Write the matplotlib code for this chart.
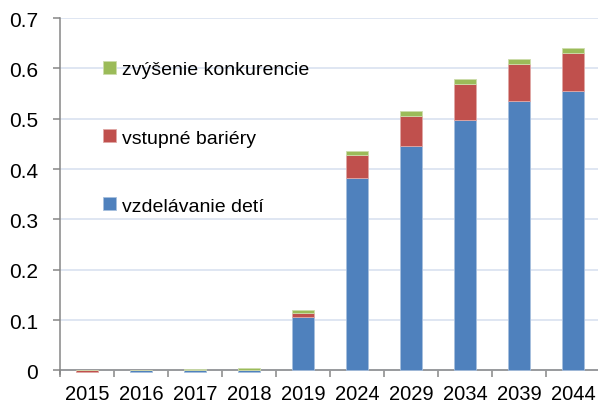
import numpy as np
import matplotlib.pyplot as plt

# Chart data
years = ['2015', '2016', '2017', '2018', '2019', '2024', '2029', '2034', '2039', '2044']
vzdelavanie = [0.0, -0.003, -0.003, -0.003, 0.1065, 0.383, 0.445, 0.498, 0.535, 0.555]
bariery = [-0.003, 0.0, 0.0005, 0.0005, 0.0085, 0.045, 0.061, 0.070, 0.074, 0.075]
konkurencia = [0.0, 0.0003, 0.002, 0.0035, 0.006, 0.008, 0.0096, 0.011, 0.010, 0.011]

series_names = ['vzdelávanie detí', 'vstupné bariéry', 'zvýšenie konkurencie']
colors = ['#4F81BD', '#C0504D', '#9BBB59']
edges = ['#A7C0DE', '#E0A8A6', '#CDDDAC']

plt.rcParams['font.family'] = ['Liberation Sans', 'DejaVu Sans']

fig = plt.figure(figsize=(5.98, 4.14), dpi=100)
ax = fig.add_axes([60 / 598, 39.5 / 414, 540 / 598, 355.5 / 414])

x = np.arange(len(years))
pos_bottom = np.zeros(len(years))
neg_bottom = np.zeros(len(years))
handles = []
for vals, name, c, ec in zip([vzdelavanie, bariery, konkurencia], series_names, colors, edges):
    vals = np.array(vals)
    bottom = np.where(vals >= 0, pos_bottom, neg_bottom)
    h = ax.bar(x, vals, width=0.4, bottom=bottom, color=c, edgecolor=ec,
               linewidth=0.6, label=name, zorder=3)
    handles.append(h)
    pos_bottom += np.where(vals >= 0, vals, 0)
    neg_bottom += np.where(vals < 0, vals, 0)

ax.set_xlim(-0.5, len(years) - 0.5)
ax.set_ylim(-0.006, 0.7)
ax.set_yticks(np.arange(0, 0.71, 0.1))
ax.set_yticklabels(['0'] + [f'{v:.1f}' for v in np.arange(0.1, 0.71, 0.1)])
ax.set_xticks(x)
ax.set_xticklabels(years)
ax.set_xticks(np.arange(-0.5, len(years), 1), minor=True)

ax.yaxis.grid(True, color='#D9E1F0', linewidth=1.2, zorder=0)
ax.set_axisbelow(True)

for s in ['top', 'right']:
    ax.spines[s].set_visible(False)
ax.spines['bottom'].set_position(('data', 0))
for s in ['left', 'bottom']:
    ax.spines[s].set_color('#868686')
    ax.spines[s].set_linewidth(1.1)

ax.tick_params(axis='y', which='major', length=5, width=1.1, color='#868686',
               labelsize=15, pad=11, labelcolor='black')
ax.tick_params(axis='x', which='major', length=0, labelsize=14.5, pad=10)
ax.tick_params(axis='x', which='minor', length=5, width=1.1, color='#868686',
               direction='out')

leg = ax.legend(handles[::-1], series_names[::-1], loc='upper left',
                bbox_to_anchor=(103 / 598, 1 - 62 / 414), bbox_transform=fig.transFigure,
                frameon=False, fontsize=14, handlelength=0.68, handleheight=0.68,
                handletextpad=0.3, labelspacing=2.6, borderpad=0, borderaxespad=0)

fig.savefig('out.png', dpi=100)
